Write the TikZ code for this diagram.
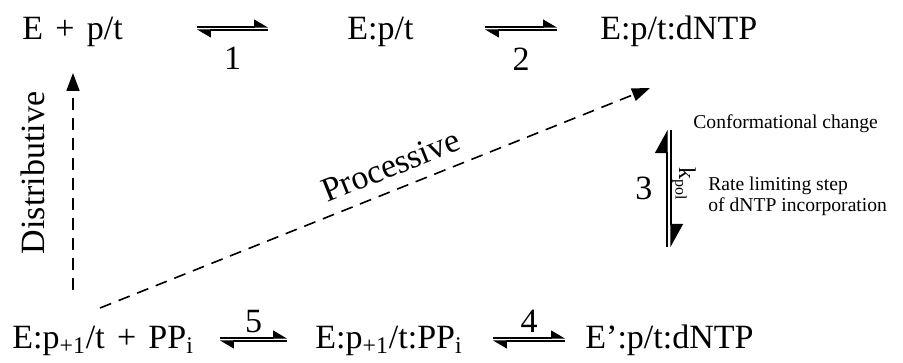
\documentclass[tikz,border=0pt]{standalone}
\usepackage{fontspec}
\setmainfont{Liberation Serif}
\usepackage{tikz}
\usetikzlibrary{arrows.meta,positioning}

\begin{document}
\begin{tikzpicture}[
  x=0.5pt,
  y=0.5pt,
  species/.style={inner sep=0pt, anchor=base west, font=\fontsize{17}{20}\selectfont},
  lbl/.style={inner sep=0pt, font=\fontsize{17}{20}\selectfont},
  note/.style={inner sep=0pt, anchor=base west, align=left, font=\fontsize{9.8}{10.5}\selectfont},
  fwd/.style={-{Triangle[left,length=6.5pt,width=7.5pt]}, line width=0.55pt},
  fwdv/.style={-{Triangle[left,length=11pt,width=12pt]}, line width=0.55pt},
  route/.style={-{Triangle[length=9pt,width=6.5pt]}, line width=0.8pt, dash pattern=on 6pt off 4pt}
]
  \useasboundingbox (0,0) rectangle (903,-363);

  \node[species] (ep) at (22,-40) {E\hspace{0.36em}+\hspace{0.36em}p/t};
  \node[species] (eb) at (347,-40) {E:p/t};
  \node[species] (ed) at (600,-40) {E:p/t:dNTP};
  \node[species] (ebl) at (12,-348) {E:p\textsubscript{+1}/t\hspace{0.36em}+\hspace{0.36em}PP\textsubscript{i}};
  \node[species] (emid) at (315,-348) {E:p\textsubscript{+1}/t:PP\textsubscript{i}};
  \node[species] (e2) at (585,-348) {E’:p/t:dNTP};

  \draw[fwd] ([shift={(175,13)}]ep.base west) -- ([shift={(-79,13)}]eb.base west);
  \draw[fwd] ([shift={(-79,10)}]eb.base west) -- ([shift={(175,10)}]ep.base west)
    node[lbl, midway, below=8.5pt] (k1) {1};
  \draw[fwd] ([shift={(138,13)}]eb.base west) -- ([shift={(-43,13)}]ed.base west);
  \draw[fwd] ([shift={(-43,10)}]ed.base west) -- ([shift={(138,10)}]eb.base west)
    node[lbl, midway, below=8.5pt] (k2) {2};

  \draw[fwdv] ([shift={(82,101)}]e2.base west) -- ([shift={(67,-90)}]ed.base west)
    node[lbl, midway, left=7pt] (k3) {3};
  \draw[fwdv] ([shift={(71,-90)}]ed.base west) -- ([shift={(86,101)}]e2.base west)
    node[pos=0.46, xshift=6.5pt, rotate=-90, inner sep=0pt, font=\fontsize{12}{14}\selectfont] (kpol) {k\textsubscript{pol}};

  \draw[fwd] ([shift={(178,10)}]emid.base west) -- ([shift={(-20,10)}]e2.base west)
    node[lbl, midway, above=2.5pt] (k4) {4};
  \draw[fwd] ([shift={(-20,7)}]e2.base west) -- ([shift={(178,7)}]emid.base west);
  \draw[fwd] ([shift={(208,10)}]ebl.base west) -- ([shift={(-28,10)}]emid.base west)
    node[lbl, midway, above=2.5pt] (k5) {5};
  \draw[fwd] ([shift={(-28,7)}]emid.base west) -- ([shift={(208,7)}]ebl.base west);

  \draw[route] ([shift={(61,58)}]ebl.base west) -- ([shift={(51,-33)}]ep.base west)
    node[lbl, pos=0.54, xshift=-20pt, rotate=90] (dist) {Distributive};
  \draw[route] ([shift={(88,40)}]ebl.base west) -- ([shift={(50,-48)}]ed.base west)
    node[lbl, pos=0.545, sloped, above=6pt] (proc) {Processive};

  \node[note] (conf) at (693,-129) {Conformational change};
  \node[note, anchor=west] (rate) at (708,-196) {Rate limiting step\\of dNTP incorporation};
\end{tikzpicture}
\end{document}
